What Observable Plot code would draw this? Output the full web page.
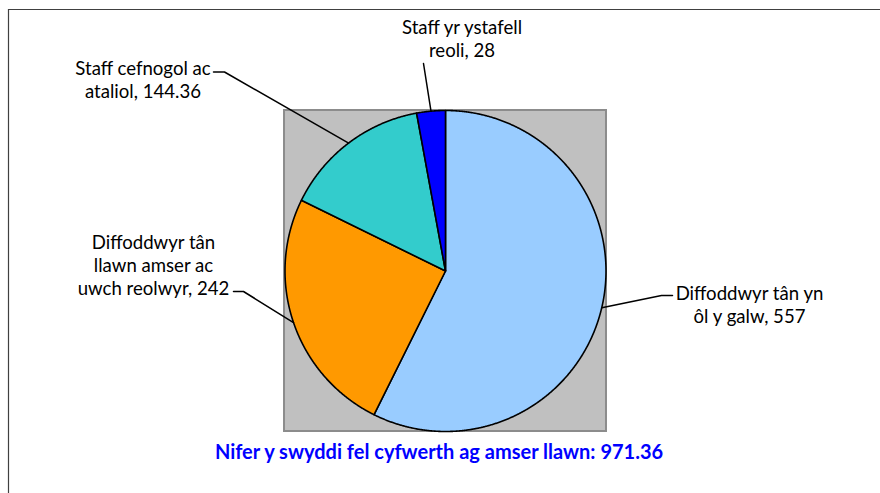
<!DOCTYPE html>
<html><head><meta charset="utf-8">
<script src="https://cdn.jsdelivr.net/npm/d3@7"></script>
<script src="https://cdn.jsdelivr.net/npm/@observablehq/plot@0.6"></script>
<style>body{margin:0;background:#fff} #chart svg{display:block}</style>
</head><body><div id="chart"></div>
<script>
// ---- data ----
const categories = [
  "Diffoddwyr tân yn ôl y galw",
  "Diffoddwyr tân llawn amser ac uwch reolwyr",
  "Staff cefnogol ac ataliol",
  "Staff yr ystafell reoli"
];
const values = [557, 242, 144.36, 28];
const wrappedNames = [
  "Diffoddwyr tân yn\nôl y galw",
  "Diffoddwyr tân\nllawn amser ac\nuwch reolwyr",
  "Staff cefnogol ac\nataliol",
  "Staff yr ystafell\nreoli"
];
const colors = ["#99CCFF", "#FF9900", "#33CCCC", "#0000FF"];
const titleText = "Nifer y swyddi fel cyfwerth ag amser llawn";

// ---- layout (pixels) ----
const W = 880, H = 493, CX = 445, CY = 270.5, R = 160.5;
const u = px => (px - CX) / R;
const v = py => (CY - py) / R;
const labelLayout = [
  {elbow: [661, 295], end: [672, 295], text: [749, 303.5]},
  {elbow: [243, 291], end: [233, 291], text: [153, 264]},
  {elbow: [224, 71.5], end: [213, 71.5], text: [142.5, 79]},
  {elbow: [423, 63], end: [423, 63], text: [461.5, 37.5]}
];

// ---- pie geometry (unit radius, y up, clockwise from 12 o'clock) ----
const arcs = d3.pie().sort(null).startAngle(0).endAngle(2 * Math.PI)(values);
const slicePts = [];
arcs.forEach((a, i) => {
  slicePts.push({name: categories[i], x: 0, y: 0});
  const n = Math.max(2, Math.ceil((a.endAngle - a.startAngle) / (Math.PI / 720)));
  for (let k = 0; k <= n; k++) {
    const t = a.startAngle + (a.endAngle - a.startAngle) * k / n;
    slicePts.push({name: categories[i], x: Math.sin(t), y: Math.cos(t)});
  }
});
const leaderPts = [];
const labels = [];
arcs.forEach((a, i) => {
  const m = (a.startAngle + a.endAngle) / 2;
  const L = labelLayout[i];
  leaderPts.push({k: i, x: Math.sin(m), y: Math.cos(m)});
  leaderPts.push({k: i, x: u(L.elbow[0]), y: v(L.elbow[1])});
  leaderPts.push({k: i, x: u(L.end[0]), y: v(L.end[1])});
  labels.push({x: u(L.text[0]), y: v(L.text[1]), text: wrappedNames[i] + ", " + values[i]});
});
const total = d3.sum(values);
const title = [{x: u(438.5), y: v(452), text: titleText + ": " + (+total.toFixed(2))}];

const chart = Plot.plot({
  width: W, height: H,
  marginTop: 0, marginRight: 0, marginBottom: 0, marginLeft: 0,
  x: {domain: [u(0), u(W)], axis: null},
  y: {domain: [v(H), v(0)], axis: null},
  color: {domain: categories, range: colors},
  style: {fontFamily: "Lato, sans-serif", background: "#fff"},
  marks: [
    Plot.ruleY([v(9)], {x1: u(8), x2: u(W), stroke: "#404040", strokeWidth: 1.2}),
    Plot.ruleX([u(8)], {y1: v(9), y2: v(H), stroke: "#404040", strokeWidth: 1.2}),
    Plot.rect([0], {x1: -1.003, x2: 1.003, y1: -1, y2: 1, fill: "#C0C0C0", stroke: "#8c8c8c", strokeWidth: 2}),
    Plot.line(slicePts, {x: "x", y: "y", z: "name", fill: "name", stroke: "#000", strokeWidth: 1.6, curve: "linear-closed", strokeLinejoin: "round"}),
    Plot.line(leaderPts, {x: "x", y: "y", z: "k", stroke: "#000", strokeWidth: 1.5}),
    Plot.text(labels, {x: "x", y: "y", text: "text", fontSize: 18.6, lineHeight: 1.24, fill: "#000", textAnchor: "middle"}),
    Plot.text(title, {x: "x", y: "y", text: "text", fontSize: 20, fontWeight: "bold", fill: "#0000FF", textAnchor: "middle"})
  ]
});
document.getElementById("chart").appendChild(chart);
</script>
</body></html>
